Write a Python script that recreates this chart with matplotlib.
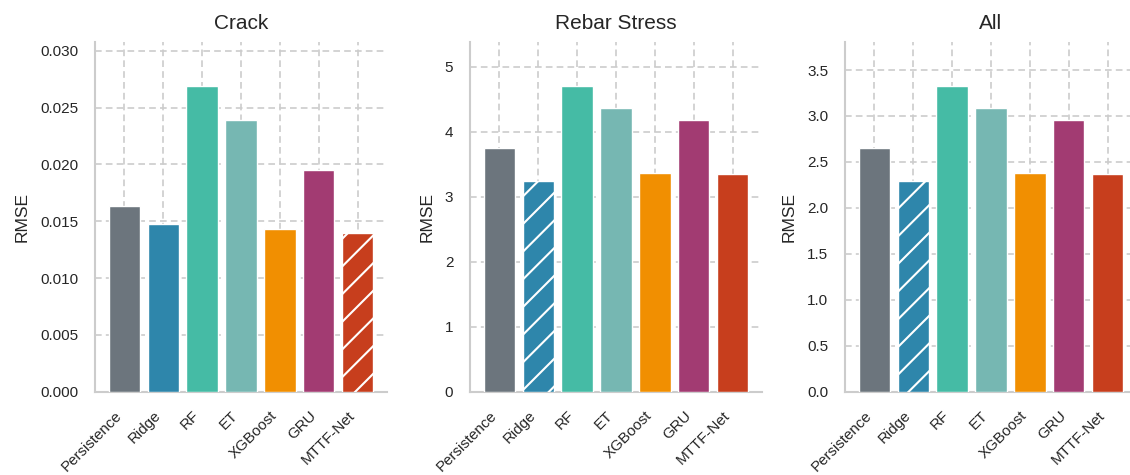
import numpy as np
import matplotlib
matplotlib.use("Agg")
import matplotlib.pyplot as plt
import seaborn as sns

models = ["Persistence", "Ridge", "RF", "ET", "XGBoost", "GRU", "MTTF-Net"]
colors = ["#6C757D", "#2E86AB", "#45BBA5", "#76B7B2", "#F18F01", "#A23B72", "#C73E1D"]

crack_rmse = [0.0163, 0.0148, 0.0269, 0.0239, 0.0143, 0.0195, 0.0140]
rebar_rmse = [3.745, 3.237, 4.703, 4.36, 3.37, 4.185, 3.35]
all_rmse = [2.648, 2.289, 3.326, 3.084, 2.383, 2.96, 2.369]

titles = ["Crack", "Rebar Stress", "All"]
panels = [crack_rmse, rebar_rmse, all_rmse]
y_ticks = [np.arange(0, 0.0301, 0.005), np.arange(0, 5.1, 1), np.arange(0, 3.51, 0.5)]
y_fmt = ["{:.3f}", "{:.0f}", "{:.1f}"]

# render at a lower dpi so the hatch spacing matches; S keeps sizes in pixels
DPI = 83
S = 100 / DPI
W, H = 1130, 475

sns.set_style("whitegrid")
plt.rcParams["font.family"] = ["Liberation Sans", "DejaVu Sans"]
plt.rcParams["hatch.color"] = "white"
plt.rcParams["hatch.linewidth"] = 1.5 * S

fig = plt.figure(figsize=(W / DPI, H / DPI), dpi=DPI)
lefts = [95, 470, 845]
text_col = "#262626"

for i, (title, vals) in enumerate(zip(titles, panels)):
    ax = fig.add_axes([lefts[i] / W, 83.3 / H, 292 / W, 350 / H])
    x = np.arange(len(models))
    bars = ax.bar(x, vals, width=0.8, color=colors, edgecolor="white",
                  linewidth=1 * S, zorder=3)
    best = int(np.argmin(vals))
    bars[best].set_hatch("/")

    ax.set_xlim(-0.75, len(models) - 0.25)
    ax.set_ylim(0, max(vals) * 1.145)
    ax.set_yticks(y_ticks[i])
    ax.set_yticklabels([y_fmt[i].format(v) for v in y_ticks[i]], fontsize=11 * S, color=text_col)
    ax.set_xticks(x)
    ax.set_xticklabels(models, rotation=45, ha="right", fontsize=10.9 * S, color=text_col)
    ax.set_ylabel("RMSE", fontsize=12.5 * S, color=text_col, labelpad=7.5 * S)
    ax.set_title(title, fontsize=15 * S, color=text_col, pad=9.5 * S)

    ax.grid(True, linestyle="--", color="#cccccc", linewidth=1.2 * S, zorder=0,
            dashes=(4, 2.5))
    ax.set_axisbelow(True)
    for side in ["top", "right"]:
        ax.spines[side].set_visible(False)
    for side in ["left", "bottom"]:
        ax.spines[side].set_color("#cccccc")
        ax.spines[side].set_linewidth(1.5 * S)
    ax.tick_params(axis="both", length=0, pad=12 * S)

fig.savefig("out.png", dpi=DPI)
